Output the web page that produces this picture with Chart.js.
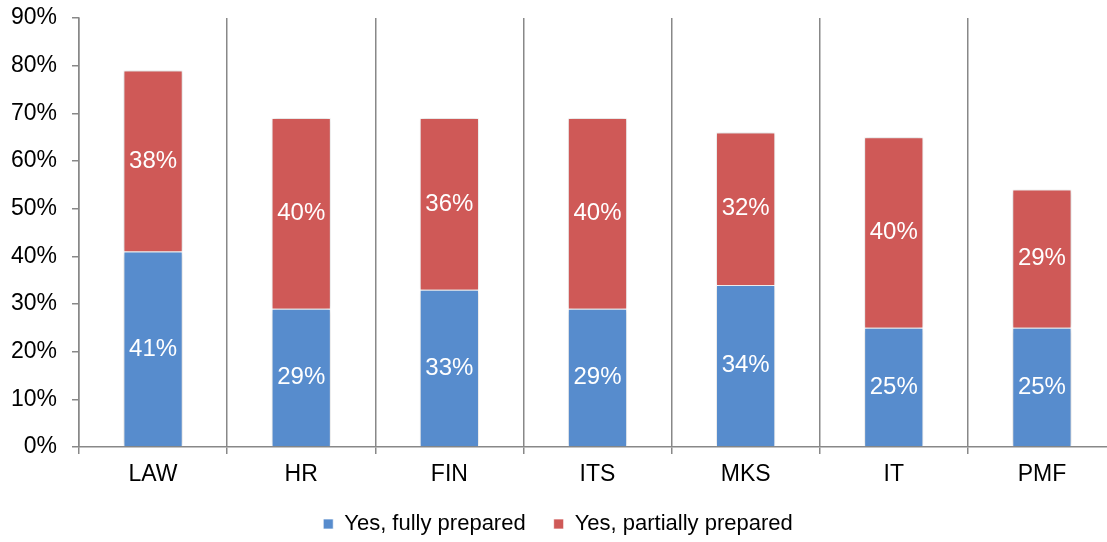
<!DOCTYPE html>
<html>
<head>
<meta charset="utf-8">
<script src="https://cdn.jsdelivr.net/npm/chart.js@4/dist/chart.umd.min.js"></script>
<style>
  html, body { margin: 0; padding: 0; background: #fff; overflow: hidden; }
  #wrap { width: 1116px; height: 542px; }
</style>
</head>
<body>
<div id="wrap"><canvas id="barChart"></canvas></div>
<script>
// Data
const faculties = ["LAW", "HR", "FIN", "ITS", "MKS", "IT", "PMF"];
const fullyPrepared = [41, 29, 33, 29, 34, 25, 25];
const partiallyPrepared = [38, 40, 36, 40, 32, 40, 29];
const yTicks = [0, 10, 20, 30, 40, 50, 60, 70, 80, 90];

const font = "'Liberation Sans', Arial, sans-serif";

// light shadow around the bars
const barShadow = {
  id: "barShadow",
  beforeDatasetsDraw(chart) {
    chart.ctx.save();
    chart.ctx.shadowColor = "rgba(0,0,0,0.22)";
    chart.ctx.shadowBlur = 5;
  },
  afterDatasetsDraw(chart) {
    chart.ctx.restore();
  },
};

// value labels in the middle of each segment
const segmentLabels = {
  id: "segmentLabels",
  afterDatasetsDraw(chart) {
    const ctx = chart.ctx;
    ctx.save();
    ctx.fillStyle = "#fff";
    ctx.font = "24px " + font;
    ctx.textAlign = "center";
    ctx.textBaseline = "middle";
    chart.data.datasets.forEach((ds, i) => {
      chart.getDatasetMeta(i).data.forEach((bar, j) => {
        const mid = (bar.y + bar.base) / 2;
        ctx.fillText(ds.data[j] + "%", bar.x, mid);
      });
    });
    ctx.restore();
  },
};

const ctx = document.getElementById("barChart").getContext("2d");
new Chart(ctx, {
  type: "bar",
  data: {
    labels: faculties,
    datasets: [
      {
        label: "Yes, fully prepared",
        data: fullyPrepared,
        backgroundColor: "#578CCD",
        borderColor: "rgba(255,255,255,0.7)",
        borderWidth: 1,
        barPercentage: 0.4,
        categoryPercentage: 1,
      },
      {
        label: "Yes, partially prepared",
        data: partiallyPrepared,
        backgroundColor: "#CF5957",
        borderColor: "rgba(255,255,255,0.7)",
        borderWidth: 1,
        barPercentage: 0.4,
        categoryPercentage: 1,
      },
    ],
  },
  options: {
    responsive: true,
    maintainAspectRatio: false,
    animation: false,
    layout: { padding: { top: 18, right: 0, left: 0, bottom: -3 } },
    plugins: {
      tooltip: { enabled: false },
      legend: {
        position: "bottom",
        labels: {
          font: { family: font, size: 22 },
          color: "#000",
          boxWidth: 10,
          boxHeight: 10,
          padding: 28,
        },
      },
    },
    scales: {
      x: {
        stacked: true,
        offset: true,
        afterFit(scale) { scale.height = 38; },
        grid: {
          offset: true,
          color: "#888",
          lineWidth: 1.5,
          tickLength: 7,
          drawOnChartArea: true,
        },
        border: { color: "#888", width: 1.5 },
        ticks: {
          font: { family: font, size: 23 },
          color: "#000",
          padding: 7,
        },
      },
      y: {
        stacked: true,
        min: 0,
        max: 90,
        afterFit(scale) {
          scale.width = 79;
          scale.paddingTop = 0;
          scale.paddingBottom = 0;
        },
        afterBuildTicks(scale) { scale.ticks = yTicks.map((v) => ({ value: v })); },
        grid: {
          drawOnChartArea: false,
          color: "#888",
          lineWidth: 1.5,
          tickLength: 7,
        },
        border: { color: "#888", width: 1.5 },
        ticks: {
          font: { family: font, size: 23 },
          color: "#000",
          padding: 15,
          callback: (v) => v + "%",
        },
      },
    },
  },
  plugins: [barShadow, segmentLabels],
});
</script>
</body>
</html>
